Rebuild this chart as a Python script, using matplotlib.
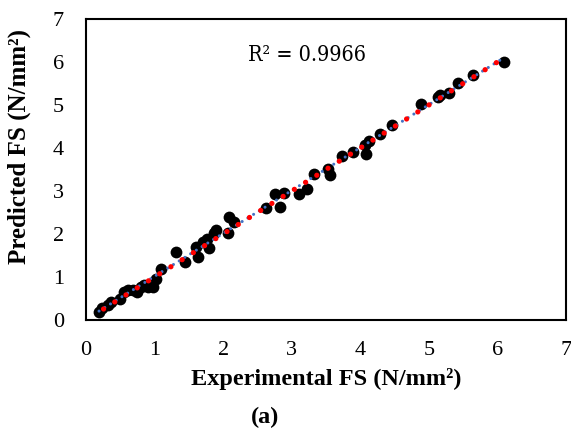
import numpy as np
import matplotlib
matplotlib.use("Agg")
import matplotlib.pyplot as plt

# experimental vs predicted flexural strength
experimental = [0.19, 0.24, 0.32, 0.36, 0.49, 0.56, 0.61, 0.68, 0.75, 0.80,
                0.85, 0.90, 0.97, 1.02, 1.09, 1.31, 1.45, 1.63, 1.60, 1.70,
                1.79, 1.77, 1.87, 1.90, 2.07, 2.09, 2.16, 2.62, 2.76, 2.83,
                2.89, 3.11, 3.23, 3.32, 3.53, 3.56, 3.73, 3.89, 4.08, 4.07,
                4.12, 4.29, 4.46, 4.89, 5.14, 5.16, 5.30, 5.43, 5.64, 6.09]
predicted = [0.19, 0.27, 0.35, 0.43, 0.50, 0.66, 0.70, 0.70, 0.66, 0.77,
             0.81, 0.77, 0.77, 0.95, 1.19, 1.57, 1.36, 1.47, 1.70, 1.82,
             1.67, 1.88, 2.02, 2.09, 2.02, 2.39, 2.29, 2.60, 2.93, 2.63,
             2.95, 2.92, 3.04, 3.40, 3.51, 3.37, 3.81, 3.91, 3.86, 4.07,
             4.17, 4.33, 4.53, 5.02, 5.18, 5.23, 5.27, 5.50, 5.70, 6.01]
r2_text = "R² = 0.9966"

plt.rcParams['font.family'] = ['Liberation Serif', 'DejaVu Serif']

fig = plt.figure(figsize=(5.71, 4.32), dpi=100)
ax = fig.add_axes([86/571, (432-320)/432, 480/571, 301/432])

x = np.array(experimental)
y = np.array(predicted)
ax.scatter(x, y, s=72, color='black', zorder=2, linewidths=0)

# trend line (blue) and equality line (red)
k, b = np.polyfit(x, y, 1)
xs = np.array([x.min(), x.max()])
ax.plot(xs, k*xs + b, color='#4472C4', lw=2.2, ls=(0, (0.01, 2.2)),
        dash_capstyle='round', zorder=3)
ax.plot(xs, xs, color='red', lw=3.8, ls=(1.5, (0.01, 2.5)),
        dash_capstyle='round', zorder=4)

ax.text(3.22, 6.16, r2_text, fontsize=15.5, ha='center', va='center',
        family=['DejaVu Serif'], fontstretch='condensed')

ax.set_xlim(0, 7)
ax.set_ylim(0, 7)
ax.set_xticks(range(0, 8))
ax.set_yticks(range(0, 8))
ax.tick_params(length=0, labelsize=16)
ax.tick_params(axis='x', pad=15)
ax.tick_params(axis='y', pad=16)
for s in ax.spines.values():
    s.set_linewidth(1.5)

ax.set_xlabel("Experimental FS (N/mm²)", fontsize=17.5, fontweight='bold', labelpad=6)
ax.set_ylabel("Predicted FS (N/mm²)", fontsize=18, fontweight='bold')
ax.yaxis.set_label_coords(-0.115, (320-147)/301)
fig.text(265/571, 1 - 417/432, "(a)", fontsize=17.5, fontweight='bold',
         ha='center', va='center')

fig.savefig("out.png", dpi=100)
